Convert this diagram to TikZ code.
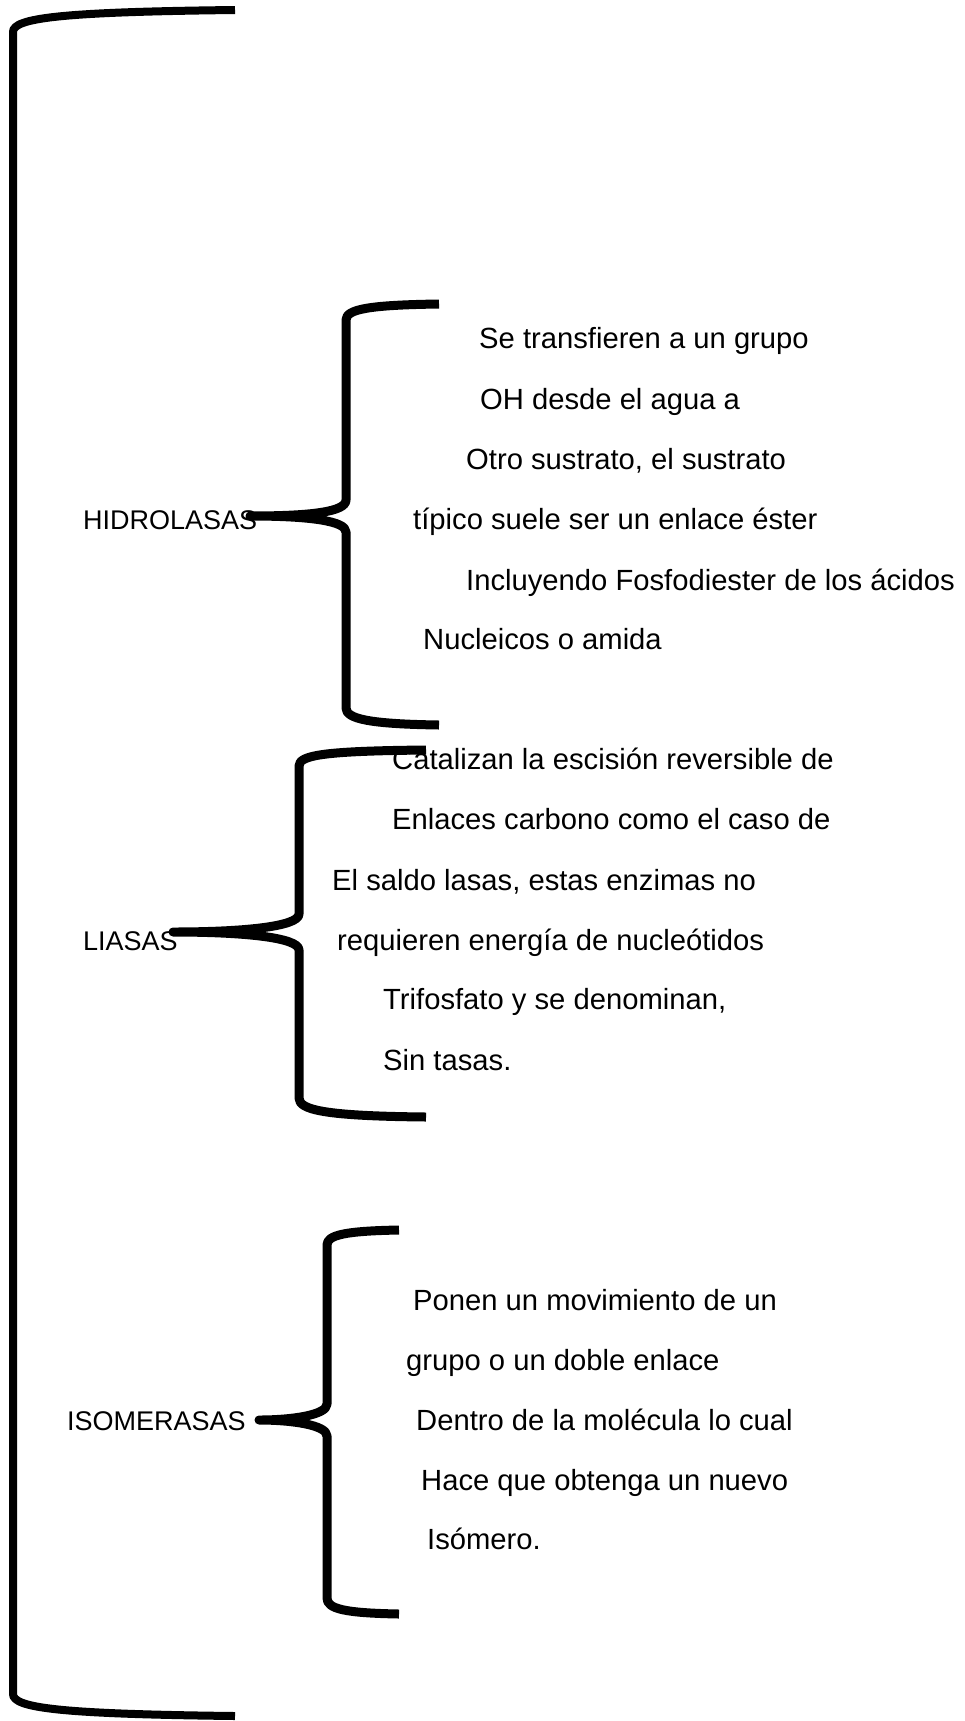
\documentclass[tikz,border=0pt]{standalone}
\usepackage{fontspec}
\setmainfont{Liberation Sans}
\usepackage{tikz}

\begin{document}
\begin{tikzpicture}[x=1pt,y=-1pt,
    llave/.style={line width=9pt,line join=round},
    enzima/.style={anchor=base west,inner sep=0pt,font=\fontsize{27}{32}\selectfont},
    linea/.style={anchor=base west,inner sep=0pt,font=\fontsize{29.2}{34}\selectfont}]
    \useasboundingbox (0,0) rectangle (964,1721);

    \draw[line width=8pt] (235,10) .. controls (60,12) and (13,18) .. (13,32) -- (13,1694)
        .. controls (13,1708) and (60,1714) .. (235,1716);

    \node[enzima] (hidrolasas) at (83,529) {HIDROLASAS};
    \node[linea] (h1) at (479,348) {Se transfieren a un grupo};
    \node[linea] (h2) at (480,409) {OH desde el agua a};
    \node[linea] (h3) at (466,469) {Otro sustrato, el sustrato};
    \node[linea] (h4) at (413,529) {típico suele ser un enlace éster};
    \node[linea] (h5) at (466,590) {Incluyendo Fosfodiester de los ácidos};
    \node[linea] (h6) at (423,649) {Nucleicos o amida};
    \coordinate (hpunta) at (250,516);
    \draw[llave] (439,304) .. controls (370,305) and (346,309) .. (346,320) -- (346,500)
        .. controls (346,512) and (310,516) .. (hpunta)
        .. controls (310,516) and (346,521) .. (346,532) -- (346,708)
        .. controls (346,719) and (370,724) .. (439,725);

    \node[enzima] (liasas) at (83,950) {LIASAS};
    \node[linea] (l1) at (392,769) {Catalizan la escisión reversible de};
    \node[linea] (l2) at (392,829) {Enlaces carbono como el caso de};
    \node[linea] (l3) at (332,890) {El saldo lasas, estas enzimas no};
    \node[linea] (l4) at (337,950) {requieren energía de nucleótidos};
    \node[linea] (l5) at (383,1009) {Trifosfato y se denominan,};
    \node[linea] (l6) at (383,1070) {Sin tasas.};
    \coordinate (lpunta) at (173,932);
    \draw[llave] (426,750) .. controls (325,751) and (299,755) .. (299,766) -- (299,914)
        .. controls (299,927) and (240,932) .. (lpunta)
        .. controls (240,932) and (299,937) .. (299,950) -- (299,1098)
        .. controls (299,1110) and (325,1116) .. (426,1117);

    \node[enzima] (isomerasas) at (67,1430) {ISOMERASAS};
    \node[linea] (i1) at (413,1310) {Ponen un movimiento de un};
    \node[linea] (i2) at (406,1370) {grupo o un doble enlace};
    \node[linea] (i3) at (416,1430) {Dentro de la molécula lo cual};
    \node[linea] (i4) at (421,1490) {Hace que obtenga un nuevo};
    \node[linea] (i5) at (427,1549) {Isómero.};
    \coordinate (ipunta) at (259,1420);
    \draw[llave] (399,1230) .. controls (345,1231) and (327,1235) .. (327,1245) -- (327,1404)
        .. controls (327,1415) and (292,1420) .. (ipunta)
        .. controls (292,1420) and (327,1425) .. (327,1436) -- (327,1598)
        .. controls (327,1609) and (345,1613) .. (399,1614);
\end{tikzpicture}
\end{document}
